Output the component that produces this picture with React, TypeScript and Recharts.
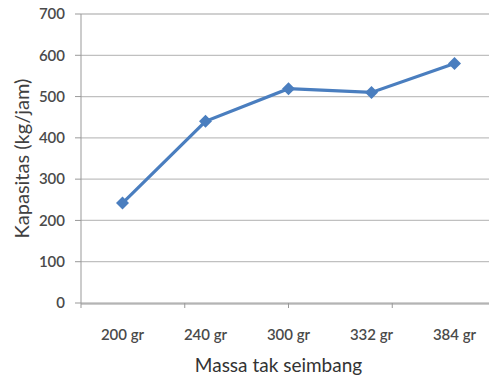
import { LineChart, Line, XAxis, YAxis, CartesianGrid } from "recharts";

const massa = ["200 gr", "240 gr", "300 gr", "332 gr", "384 gr"];
const kapasitas = [242, 440, 519, 510, 580];
const yTicks = [0, 100, 200, 300, 400, 500, 600, 700];
// category boundaries, used only for the tick marks between labels
const bounds = [0, 1, 2, 3, 4, 5];

const data = massa.map((m, i) => ({ massa: m, kapasitas: kapasitas[i] }));

const BLUE = "#4a7ebf";
const FONT = "Lato, 'Open Sans', sans-serif";
const tickStyle = { fill: "#4a4a4a", fontSize: 15, fontFamily: FONT, fontWeight: 600 };

function Diamond(props: any) {
  const { cx, cy, index } = props;
  if (cx == null || cy == null) return null;
  const r = 6.5;
  return (
    <path
      key={`d-${index}`}
      d={`M${cx},${cy - r} L${cx + r},${cy} L${cx},${cy + r} L${cx - r},${cy} Z`}
      fill={BLUE}
    />
  );
}

export default function App() {
  return (
    <div
      style={{
        position: "absolute",
        left: 0,
        top: 0,
        width: 489,
        height: 378,
        overflow: "hidden",
        background: "#fff",
      }}
    >
      <LineChart
        width={500}
        height={378}
        data={data}
        margin={{ top: 14, right: 4, left: 0, bottom: 30 }}
      >
        <CartesianGrid vertical={false} stroke="#c0c0c0" strokeWidth={1.3} xAxisId="cat" />
        <XAxis
          xAxisId="a-bounds"
          type="number"
          domain={[0, 5]}
          ticks={bounds}
          allowDataOverflow
          height={1}
          stroke="#999"
          tickSize={5}
          tickLine={{ stroke: "#999" }}
          tick={() => <g />}
          axisLine={false}
        />
        <XAxis
          xAxisId="cat"
          dataKey="massa"
          height={44}
          padding={{ left: 41.5, right: 41.5 }}
          stroke="#999"
          tickLine={false}
          tickMargin={19}
          tick={tickStyle}
          label={{
            value: "Massa tak seimbang",
            position: "bottom",
            offset: 0,
            dx: -10,
            dy: 11,
            fill: "#333",
            fontSize: 19,
            fontFamily: FONT,
          }}
        />
        <YAxis
          width={81}
          domain={[0, 700]}
          ticks={yTicks}
          interval={0}
          stroke="#999"
          tickSize={6}
          tickMargin={10}
          tick={tickStyle}
          label={{
            value: "Kapasitas (kg/jam)",
            angle: -90,
            position: "insideLeft",
            offset: 22,
            style: { textAnchor: "middle" },
            fill: "#404040",
            fontSize: 20,
            fontFamily: FONT,
          }}
        />
        <Line
          xAxisId="cat"
          type="linear"
          dataKey="kapasitas"
          stroke={BLUE}
          strokeWidth={3.2}
          dot={<Diamond />}
          isAnimationActive={false}
        />
      </LineChart>
    </div>
  );
}
